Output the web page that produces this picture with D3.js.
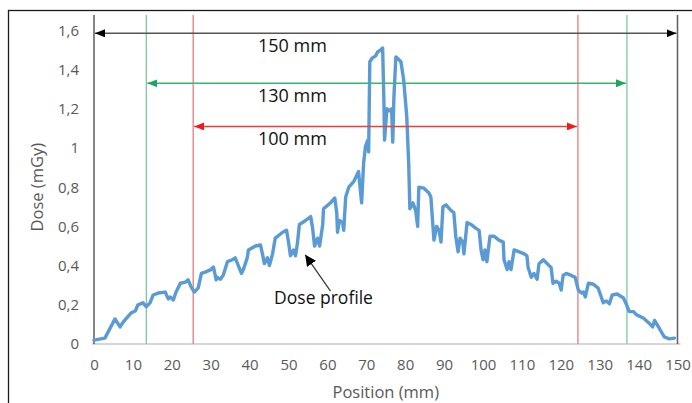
<!DOCTYPE html>
<html>
<head>
<meta charset="utf-8">
<script src="https://cdn.jsdelivr.net/npm/d3@7"></script>
<style>
  body { margin: 0; background: #fff; }
  svg { display: block; font-family: "Open Sans", sans-serif; }
</style>
</head>
<body>
<svg id="chart" width="692" height="403"></svg>
<script>
// dose profile (position in mm, dose in mGy)
const positions = [
  0, 2.8, 5.4, 6.7, 7.5, 8.2, 9.5, 10.6, 11.3, 12.6, 13.4, 14.4, 15.2, 16.5, 18.3, 19.1,
  19.6, 20.4, 21.1, 22.2, 23.5, 24.2, 25.0, 25.8, 26.8, 27.6, 28.6, 29.9, 30.7, 31.4,
  31.7, 32.5, 33.2, 34.3, 35.6, 36.3, 37.1, 37.9, 38.4, 39.4, 39.7, 41.5, 42.8, 43.3,
  43.8, 44.6, 45.1, 45.9, 46.6, 48.5, 49.5, 50.0, 50.5, 51.3, 51.8, 52.3, 52.8, 54.4,
  55.7, 56.2, 56.7, 57.5, 58.0, 58.8, 59.0, 60.8, 61.9, 62.4, 62.6, 63.1, 63.9, 64.2,
  64.7, 65.5, 66.8, 68.0, 68.8, 69.3, 69.8, 70.4, 70.6, 70.9, 71.6, 72.4, 72.9, 73.7,
  74.2, 74.5, 74.7, 75.3, 75.8, 76.5, 76.8, 77.1, 77.6, 78.4, 78.9, 79.6, 80.4, 80.9,
  81.2, 82.0, 82.7, 83.2, 83.5, 84.8, 86.1, 86.6, 87.1, 87.4, 88.1, 88.7, 89.2, 89.7,
  90.5, 91.8, 92.5, 93.0, 93.6, 94.1, 94.8, 95.1, 95.9, 96.9, 98.2, 99.0, 99.5, 100.0,
  100.5, 101.0, 101.8, 102.8, 104.1, 105.2, 105.4, 106.2, 106.7, 107.2, 108.0, 109.3,
  110.6, 111.3, 111.6, 112.4, 113.1, 113.9, 114.4, 115.5, 117.0, 117.5, 118.0, 118.8,
  119.6, 120.1, 120.6, 121.4, 122.7, 123.7, 124.5, 125.3, 125.8, 126.3, 127.1, 128.4,
  129.6, 130.4, 130.9, 131.7, 132.5, 133.2, 134.5, 136.1, 136.9, 137.6, 138.7, 139.4,
  141.2, 142.5, 143.6, 144.1, 145.1, 145.9, 146.6, 147.9, 149.2
]
const doses = [
  0.02, 0.03, 0.128, 0.087, 0.112, 0.128, 0.158, 0.168, 0.2, 0.21, 0.19, 0.21, 0.25, 0.26, 0.265, 0.23,
  0.24, 0.225, 0.265, 0.31, 0.316, 0.327, 0.29, 0.265, 0.286, 0.36, 0.367, 0.378, 0.393, 0.327,
  0.34, 0.33, 0.35, 0.42, 0.43, 0.44, 0.40, 0.36, 0.38, 0.44, 0.48, 0.50, 0.505, 0.46,
  0.41, 0.44, 0.40, 0.46, 0.54, 0.57, 0.58, 0.52, 0.45, 0.48, 0.45, 0.515, 0.61, 0.63,
  0.65, 0.59, 0.50, 0.54, 0.50, 0.61, 0.69, 0.72, 0.745, 0.67, 0.57, 0.63, 0.62, 0.58,
  0.75, 0.80, 0.83, 0.88, 0.72, 0.92, 1.01, 1.04, 0.98, 1.44, 1.46, 1.47, 1.49, 1.50,
  1.51, 1.26, 1.04, 1.20, 1.19, 1.20, 1.03, 1.26, 1.465, 1.45, 1.44, 1.35, 1.16, 0.92,
  0.69, 0.72, 0.68, 0.60, 0.80, 0.795, 0.77, 0.75, 0.61, 0.53, 0.60, 0.58, 0.52, 0.70,
  0.71, 0.68, 0.67, 0.55, 0.47, 0.54, 0.52, 0.46, 0.62, 0.61, 0.59, 0.58, 0.48, 0.43,
  0.48, 0.42, 0.55, 0.55, 0.53, 0.52, 0.43, 0.38, 0.42, 0.38, 0.48, 0.47,
  0.46, 0.45, 0.39, 0.34, 0.36, 0.33, 0.41, 0.43, 0.40, 0.39, 0.31, 0.32,
  0.31, 0.275, 0.35, 0.36, 0.35, 0.34, 0.275, 0.26, 0.265, 0.24, 0.31, 0.305,
  0.285, 0.24, 0.21, 0.22, 0.205, 0.25, 0.255, 0.235, 0.20, 0.165, 0.165, 0.15,
  0.133, 0.11, 0.087, 0.12, 0.087, 0.06, 0.036, 0.026, 0.03
]
const xTicks = [0, 10, 20, 30, 40, 50, 60, 70, 80, 90, 100, 110, 120, 130, 140, 150]
const yTicks = [0, 0.2, 0.4, 0.6, 0.8, 1, 1.2, 1.4, 1.6]

// field width markers: label, edges (mm), height of the arrow (mGy)
const spanLabels = ["150 mm", "130 mm", "100 mm"]
const spanStarts = [0, 13.45, 25.5]
const spanEnds = [150, 137.0, 124.4]
const spanLevels = [1.585, 1.33, 1.11]
const spanLines = ["#666", "#7cc8a0", "#e47a80"]
const spanHeads = ["#000", "#1fa65c", "#ee1c1c"]
const spanArrows = ["#555", "#3cb371", "#e8403a"]

const svg = d3.select("#chart")
const width = 692, height = 403
const margin = { top: 30, right: 14.5, bottom: 59, left: 94 }

const x = d3.scaleLinear().domain([0, 150]).range([margin.left, width - margin.right])
const y = d3.scaleLinear().domain([0, 1.6]).range([height - margin.bottom, margin.top + 0.4])
const comma = d => String(d).replace(".", ",")

// outer frame (only top and left edges show)
svg.append("rect")
  .attr("x", 8.5).attr("y", 10.5)
  .attr("width", 720).attr("height", 420)
  .attr("fill", "none").attr("stroke", "#1a1a1a").attr("stroke-width", 1.3)

const defs = svg.append("defs")
spanHeads.forEach((c, i) => {
  defs.append("marker")
    .attr("id", "head" + i)
    .attr("viewBox", "0 0 10 8")
    .attr("refX", 10).attr("refY", 4)
    .attr("markerWidth", 10).attr("markerHeight", 8)
    .attr("markerUnits", "userSpaceOnUse")
    .attr("orient", "auto-start-reverse")
    .append("path").attr("d", "M0,0L10,4L0,8Z").attr("fill", c)
})
defs.append("marker")
  .attr("id", "note")
  .attr("viewBox", "0 0 10 10")
  .attr("refX", 10).attr("refY", 5)
  .attr("markerWidth", 11).attr("markerHeight", 11)
  .attr("markerUnits", "userSpaceOnUse")
  .attr("orient", "auto")
  .append("path").attr("d", "M0,0L10,5L0,10Z").attr("fill", "#000")

// x axis
const xAxis = svg.append("g")
  .attr("transform", `translate(0,${y(0)})`)
  .call(d3.axisBottom(x).tickValues(xTicks).tickSize(0).tickPadding(15))
xAxis.select(".domain").attr("stroke", "#c8c8c8").attr("stroke-width", 1.5)
  .attr("d", `M${x(0) - 2},0H${x(150) + 3}`)
xAxis.selectAll("text").attr("fill", "#595959").attr("font-size", 15)
  .attr("font-family", "Open Sans")

// y axis labels only
const yAxis = svg.append("g")
  .attr("transform", `translate(${margin.left - 15},0)`)
  .call(d3.axisLeft(y).tickValues(yTicks).tickSize(0).tickPadding(0).tickFormat(comma))
yAxis.select(".domain").remove()
yAxis.selectAll("text").attr("fill", "#595959").attr("font-size", 15)
  .attr("font-family", "Open Sans")

// axis titles
svg.append("text")
  .attr("x", x(75)).attr("y", 398)
  .attr("text-anchor", "middle")
  .attr("fill", "#595959").attr("font-size", 16.5)
  .text("Position (mm)")
svg.append("text")
  .attr("transform", `translate(43,${(y(0) + y(1.6)) / 2}) rotate(-90)`)
  .attr("text-anchor", "middle")
  .attr("fill", "#595959").attr("font-size", 16.5)
  .text("Dose (mGy)")

// vertical edge lines
spanLabels.forEach((_, i) => {
  svg.append("g").selectAll("line")
    .data([spanStarts[i], spanEnds[i]])
    .join("line")
    .attr("x1", d => x(d)).attr("x2", d => x(d))
    .attr("y1", 15).attr("y2", y(0))
    .attr("stroke", spanLines[i]).attr("stroke-width", i === 0 ? 1.6 : 1.3)
})

// dose profile
const profile = positions.map((p, i) => [p, doses[i]])
svg.append("path")
  .datum(profile)
  .attr("fill", "none")
  .attr("stroke", "#5b9bd5")
  .attr("stroke-width", 3.4)
  .attr("stroke-linejoin", "round")
  .attr("stroke-linecap", "round")
  .attr("d", d3.line().x(d => x(d[0])).y(d => y(d[1])))

// horizontal double arrows with labels
spanLabels.forEach((label, i) => {
  svg.append("line")
    .attr("x1", x(spanStarts[i]) + 1).attr("x2", x(spanEnds[i]) - 1)
    .attr("y1", y(spanLevels[i])).attr("y2", y(spanLevels[i]))
    .attr("stroke", spanArrows[i]).attr("stroke-width", 1.5)
    .attr("marker-start", `url(#head${i})`)
    .attr("marker-end", `url(#head${i})`)
  svg.append("text")
    .attr("x", x(51)).attr("y", y(spanLevels[i]) + 12)
    .attr("dy", "0.35em")
    .attr("text-anchor", "middle")
    .attr("font-size", 18)
    .attr("fill", "#111")
    .text(label)
})

// "Dose profile" callout
svg.append("line")
  .attr("x1", x(60.8)).attr("y1", y(0.27))
  .attr("x2", x(54.3)).attr("y2", y(0.455))
  .attr("stroke", "#333").attr("stroke-width", 1.2)
  .attr("marker-end", "url(#note)")
svg.append("text")
  .attr("x", x(59)).attr("y", y(0.235))
  .attr("dy", "0.35em")
  .attr("text-anchor", "middle")
  .attr("font-size", 17.5)
  .attr("fill", "#111")
  .text("Dose profile")
</script>
</body>
</html>
